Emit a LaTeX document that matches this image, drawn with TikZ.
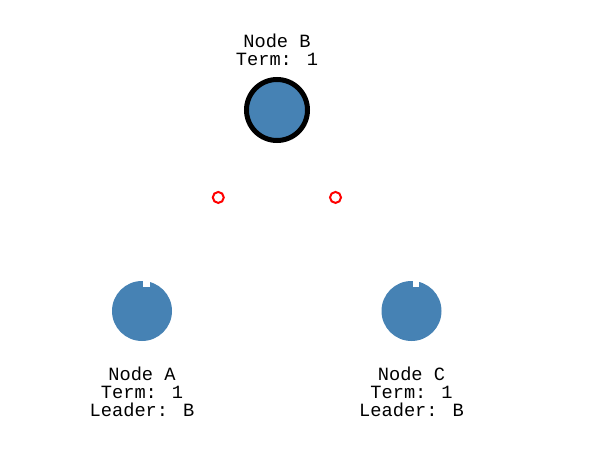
\documentclass[tikz,border=0pt]{standalone}
\usepackage{fontspec}
\newfontfamily\labelfont{Liberation Mono}
\usepackage{tikz}
\usetikzlibrary{calc,positioning}
\definecolor{nodeblue}{HTML}{4682B4}
\definecolor{pingred}{HTML}{FF0000}
\tikzset{
  leader/.style={circle,fill=nodeblue,draw=black,line width=5pt,minimum size=61pt,inner sep=0pt},
  follower/.style={circle,fill=nodeblue,minimum size=60pt,inner sep=0pt},
  ping/.style={circle,draw=pingred,line width=2pt,minimum size=11pt,inner sep=0pt},
  caption/.style={align=center,inner sep=0pt,font=\labelfont\fontsize{18.7}{18}\selectfont}
}
\begin{document}
\begin{tikzpicture}[x=1pt,y=-1pt]
\useasboundingbox (0,0) rectangle (590,466);
\node[leader] (nodeB) at (277,110) {};
\node[follower] (nodeA) at (142,311) {};
\node[follower] (nodeC) at (411.5,311) {};
\node[caption,above=11pt of nodeB] (capB) {Node B\\Term: 1};
\node[caption,below=26pt of nodeA] (capA) {Node A\\Term: 1\\Leader: B};
\node[caption,below=26pt of nodeC] (capC) {Node C\\Term: 1\\Leader: B};
% notches on the followers
\fill[white] ([shift={(1,-2)}]nodeA.north) rectangle ++(6.5,8);
\fill[white] ([shift={(1,-2)}]nodeC.north) rectangle ++(6.5,8);
% heartbeats on the way
\node[ping] (pingA) at ($(nodeB)!0.435!(nodeA)$) {};
\node[ping] (pingC) at ($(nodeB)!0.435!(nodeC)$) {};
\end{tikzpicture}
\end{document}
